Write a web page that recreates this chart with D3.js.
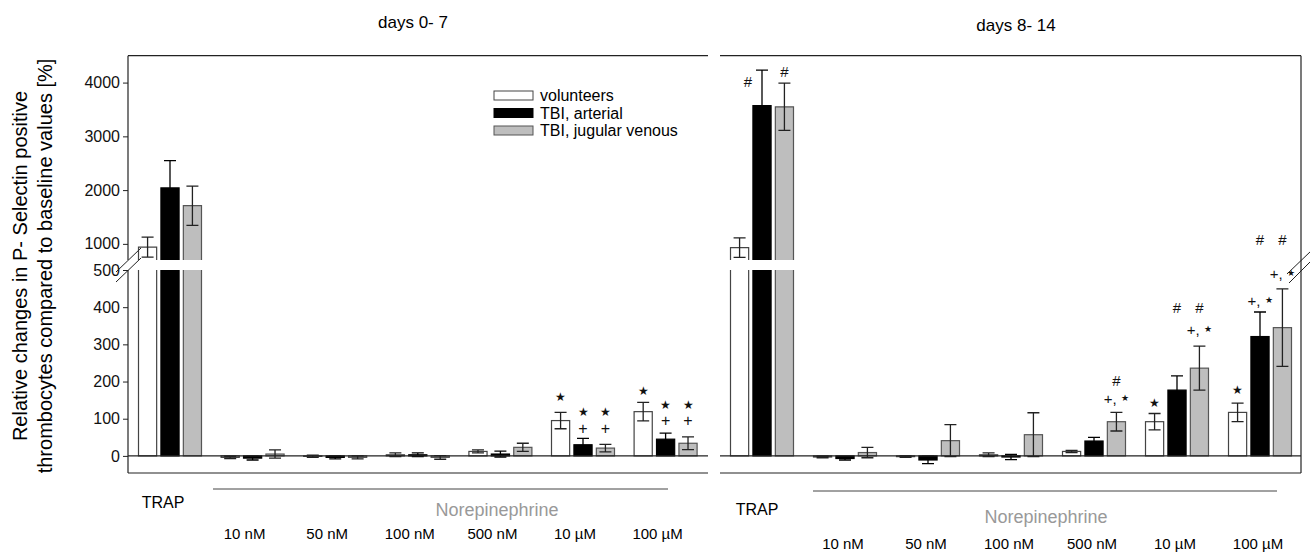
<!DOCTYPE html>
<html>
<head>
<meta charset="utf-8">
<script src="https://cdn.jsdelivr.net/npm/d3@7"></script>
<style>
  body { margin: 0; background: #fff; }
  svg { display: block; font-family: "Liberation Sans", Arial, sans-serif; }
</style>
</head>
<body>
<svg id="chart" width="1310" height="553"></svg>
<script>
// categories
const groups = ["TRAP", "10 nM", "50 nM", "100 nM", "500 nM", "10 \u00b5M", "100 \u00b5M"];
const seriesNames = ["volunteers", "TBI, arterial", "TBI, jugular venous"];

// days 0-7 (mean, error)
const earlyVol    = [940, -4, -1, 3, 12, 95, 119];
const earlyVolErr = [185, 3, 3, 5, 4, 22, 25];
const earlyArt    = [2040, -6, -4, 3, 5, 30, 45];
const earlyArtErr = [510, 5, 4, 5, 8, 17, 16];
const earlyJug    = [1710, 5, -4, -4, 23, 21, 34];
const earlyJugErr = [365, 11, 4, 5, 11, 10, 17];

// days 8-14
const lateVol    = [930, -3, -2, 3, 12, 92, 117];
const lateVolErr = [180, 2, 2, 5, 3, 22, 25];
const lateArt    = [3570, -7, -11, -3, 40, 177, 321];
const lateArtErr = [660, 4, 10, 7, 10, 38, 66];
const lateJug    = [3550, 9, 41, 57, 92, 236, 345];
const lateJugErr = [440, 14, 43, 59, 25, 59, 104];

// axis ticks
const lowTicks = [0, 100, 200, 300, 400, 500];
const highTicks = [1000, 2000, 3000, 4000];

// significance marks: [group, series, text, value height]
const earlyMarks = [
  ["10 \u00b5M", 0, "\u2605", 159],
  ["10 \u00b5M", 1, "\u2605", 119], ["10 \u00b5M", 1, "+", 75],
  ["10 \u00b5M", 2, "\u2605", 119], ["10 \u00b5M", 2, "+", 75],
  ["100 \u00b5M", 0, "\u2605", 175],
  ["100 \u00b5M", 1, "\u2605", 137], ["100 \u00b5M", 1, "+", 94],
  ["100 \u00b5M", 2, "\u2605", 137], ["100 \u00b5M", 2, "+", 94]
];
const lateMarks = [
  ["TRAP", 1, "#", 4017, "left"],
  ["TRAP", 2, "#", 4203],
  ["500 nM", 2, "#", 202], ["500 nM", 2, "+,\u2605", 155],
  ["10 \u00b5M", 0, "\u2605", 143],
  ["10 \u00b5M", 1, "#", 398],
  ["10 \u00b5M", 2, "#", 398], ["10 \u00b5M", 2, "+,\u2605", 341],
  ["100 \u00b5M", 0, "\u2605", 176],
  ["100 \u00b5M", 1, "+,\u2605", 419], ["100 \u00b5M", 1, "#", 581],
  ["100 \u00b5M", 2, "#", 581], ["100 \u00b5M", 2, "+,\u2605", 492]
];

const fills = ["#ffffff", "#000000", "#bebebe"];
const strokes = ["#444", "#000", "#555"];

const svg = d3.select("#chart");

// broken y axis: low part and high part
const yLo = d3.scaleLinear().domain([-46, 500]).range([473, 270]);
const yUp = d3.scaleLinear().domain([700, 4500]).range([260, 55.7]);
const BREAK = 700;
const yAny = v => v >= BREAK ? yUp(v) : yLo(v);

const panels = [
  {
    title: "days 0- 7", titleX: 413, titleY: 28,
    vals: [earlyVol, earlyArt, earlyJug], errs: [earlyVolErr, earlyArtErr, earlyJugErr],
    marks: earlyMarks,
    frame: [128, 708], bands: [128.7, 706.9], rightEdge: false,
    trapY: 502, norY: 510, concY: 533, lineY: 489, labelDx: -8, trapDx: -7,
    norX: 497, line: [213, 668]
  },
  {
    title: "days 8- 14", titleX: 1016, titleY: 31,
    vals: [lateVol, lateArt, lateJug], errs: [lateVolErr, lateArtErr, lateJugErr],
    marks: lateMarks,
    frame: [720, 1301], bands: [720.5, 1301.5], rightEdge: true,
    trapY: 509, norY: 517, concY: 543, lineY: 491, labelDx: -2, trapDx: -5,
    norX: 1046, line: [813, 1277]
  }
];

const inner = d3.scaleBand().domain(d3.range(seriesNames.length))
  .range([-31.5, 31.5]).paddingInner(0.19);

panels.forEach(p => {
  const x = d3.scaleBand().domain(groups).range(p.bands);
  const g = svg.append("g");
  const cx = (grp, s) => x(grp) + x.bandwidth() / 2 + inner(s) + inner.bandwidth() / 2;

  g.append("text").attr("x", p.titleX).attr("y", p.titleY)
    .attr("text-anchor", "middle").attr("font-size", 17).text(p.title);

  // bars
  groups.forEach((grp, gi) => {
    seriesNames.forEach((s, si) => {
      const v = p.vals[si][gi];
      const x0 = x(grp) + x.bandwidth() / 2 + inner(si);
      const w = inner.bandwidth();
      if (v >= BREAK) {
        const pieces = [[yLo(0), yLo(500), false], [yUp(BREAK), yUp(v), true]];
        pieces.forEach(([yb, yt, top]) => {
          g.append("rect").attr("x", x0).attr("y", yt).attr("width", w)
            .attr("height", yb - yt).attr("fill", fills[si]);
          const d = top
            ? `M${x0},${yb}V${yt}H${x0 + w}V${yb}`
            : `M${x0},${yt}V${yb}H${x0 + w}V${yt}`;
          g.append("path").attr("d", d).attr("fill", "none")
            .attr("stroke", strokes[si]).attr("stroke-width", 1.2);
        });
      } else {
        const yt = yLo(Math.max(0, v)), yb = yLo(Math.min(0, v));
        g.append("rect").attr("x", x0).attr("y", yt).attr("width", w)
          .attr("height", Math.max(yb - yt, 0.5)).attr("fill", fills[si])
          .attr("stroke", strokes[si]).attr("stroke-width", 1.2);
      }
      // error bar
      const e = p.errs[si][gi];
      const c = cx(grp, si);
      const y1 = yAny(v + e), y2 = yAny(v - e);
      const col = si === 1 ? "#000" : "#222";
      g.append("path")
        .attr("d", `M${c},${y1}V${y2}M${c - 6},${y1}H${c + 6}M${c - 6},${y2}H${c + 6}`)
        .attr("stroke", col).attr("stroke-width", 1.3).attr("fill", "none");
    });
  });

  // frame
  const [fx0, fx1] = p.frame;
  g.append("line").attr("x1", fx0).attr("x2", fx1).attr("y1", 55.7).attr("y2", 55.7)
    .attr("stroke", "#222").attr("stroke-width", 1.2);
  g.append("line").attr("x1", fx0).attr("x2", fx1).attr("y1", 473).attr("y2", 473)
    .attr("stroke", "#222").attr("stroke-width", 1.2);
  g.append("line").attr("x1", fx0).attr("x2", fx1).attr("y1", yLo(0)).attr("y2", yLo(0))
    .attr("stroke", "#222").attr("stroke-width", 1.3);
  if (p.rightEdge) {
    g.append("line").attr("x1", fx1).attr("x2", fx1).attr("y1", 55.7).attr("y2", 473)
      .attr("stroke", "#222").attr("stroke-width", 1.2);
    g.append("path").attr("d", "M1287,274L1311,251M1289,283L1311,261")
      .attr("stroke", "#222").attr("stroke-width", 1).attr("fill", "none");
  }

  // significance marks
  p.marks.forEach(([grp, si, txt, h, align]) => {
    const c = cx(grp, si) + (align === "left" ? -14 : 0);
    const t = g.append("text").attr("x", c).attr("y", yAny(h))
      .attr("text-anchor", "middle").attr("dominant-baseline", "central")
      .attr("font-size", 15).attr("fill", "#111");
    if (txt === "\u2605") {
      t.attr("font-size", 12).text(txt);
    } else if (txt === "+,\u2605") {
      t.append("tspan").text("+, ");
      t.append("tspan").attr("font-size", 9).text("\u2605");
    } else if (txt === "#") {
      t.attr("font-size", 15).text(txt);
    } else {
      t.attr("font-size", 16).text(txt);
    }
  });

  // category labels
  g.append("text").attr("x", x("TRAP") + x.bandwidth() / 2 + p.trapDx).attr("y", p.trapY)
    .attr("text-anchor", "middle").attr("dominant-baseline", "central")
    .attr("font-size", 16).text("TRAP");
  g.append("line").attr("x1", p.line[0]).attr("x2", p.line[1])
    .attr("y1", p.lineY).attr("y2", p.lineY).attr("stroke", "#444").attr("stroke-width", 1);
  g.append("text").attr("x", p.norX).attr("y", p.norY)
    .attr("text-anchor", "middle").attr("dominant-baseline", "central")
    .attr("font-size", 18).attr("fill", "#999").text("Norepinephrine");
  g.selectAll("text.conc").data(groups.slice(1)).enter().append("text")
    .attr("class", "conc")
    .attr("x", d => x(d) + x.bandwidth() / 2 + p.labelDx).attr("y", p.concY)
    .attr("text-anchor", "middle").attr("dominant-baseline", "central")
    .attr("font-size", 15).text(d => d);
});

// left y axis (broken)
const axisG = svg.append("g").attr("transform", "translate(128,0)");
const axLo = axisG.append("g").call(d3.axisLeft(yLo).tickValues(lowTicks)
  .tickFormat(d3.format("d")).tickSize(5).tickPadding(3));
const axUp = axisG.append("g").call(d3.axisLeft(yUp).tickValues(highTicks)
  .tickFormat(d3.format("d")).tickSize(5).tickPadding(3));
[axLo, axUp].forEach(a => {
  a.select(".domain").remove();
  a.selectAll("text").attr("font-family", "Liberation Sans, Arial, sans-serif")
    .attr("font-size", 16).attr("fill", "#111");
  a.selectAll("line").attr("stroke", "#222");
});
axisG.append("line").attr("x1", 0).attr("x2", 0).attr("y1", 55.7).attr("y2", 260)
  .attr("stroke", "#222").attr("stroke-width", 1.2);
axisG.append("line").attr("x1", 0).attr("x2", 0).attr("y1", 270).attr("y2", 473)
  .attr("stroke", "#222").attr("stroke-width", 1.2);
svg.append("path").attr("d", "M116,272L141,248M116,282L141,258")
  .attr("stroke", "#222").attr("stroke-width", 1).attr("fill", "none");

// y label
const yl = svg.append("text").attr("transform", "translate(20,266) rotate(-90)")
  .attr("text-anchor", "middle").attr("font-size", 20);
yl.append("tspan").attr("x", 0).attr("dy", "0.35em").text("Relative changes in P- Selectin positive");
yl.append("tspan").attr("x", 0).attr("dy", "25").text("thrombocytes compared to baseline values [%]");

// legend
const leg = svg.append("g");
seriesNames.forEach((s, i) => {
  const yy = 95.5 + i * 17.5;
  leg.append("rect").attr("x", 494).attr("y", yy - 4.5).attr("width", 39).attr("height", 9)
    .attr("fill", fills[i]).attr("stroke", strokes[i]).attr("stroke-width", 1);
  leg.append("text").attr("x", 540).attr("y", yy).attr("dominant-baseline", "central")
    .attr("font-size", 16).text(s);
});
</script>
</body>
</html>
